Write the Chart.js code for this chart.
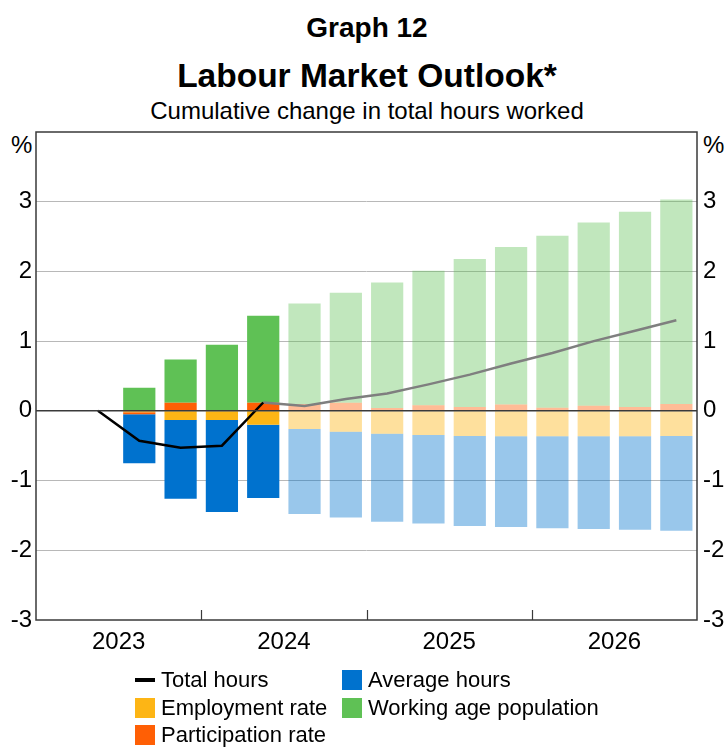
<!DOCTYPE html>
<html>
<head>
<meta charset="utf-8">
<script src="https://cdn.jsdelivr.net/npm/chart.js@4/dist/chart.umd.min.js"></script>
<style>
  html, body { margin: 0; padding: 0; background: #fff; }
  body { width: 726px; height: 747px; position: relative; overflow: hidden; font-family: "Liberation Sans", Arial, sans-serif; color: #000; }
  #c { position: absolute; left: 0; top: 0; }
  .t { position: absolute; left: 0; width: 734px; text-align: center; line-height: 1; white-space: nowrap; }
  .pct { position: absolute; font-size: 24px; line-height: 1; top: 133px; }
  .leg { position: absolute; display: flex; align-items: center; height: 20px; font-size: 22px; line-height: 20px; white-space: nowrap; }
  .sw { width: 20px; height: 20px; margin-right: 6px; flex: none; }
  .ln { width: 20px; height: 4px; margin-right: 6px; background: #000; flex: none; }
</style>
</head>
<body>
<div class="t" style="top:14px;font-size:28px;font-weight:bold;">Graph 12</div>
<div class="t" style="top:59px;font-size:33.5px;font-weight:bold;">Labour Market Outlook*</div>
<div class="t" style="top:99px;font-size:24px;">Cumulative change in total hours worked</div>
<div class="pct" style="left:11px;">%</div>
<div class="pct" style="left:703px;">%</div>
<canvas id="c" width="726" height="747" style="width:726px;height:747px;"></canvas>
<div class="leg" style="left:135px;top:670px;"><span class="ln"></span>Total hours</div>
<div class="leg" style="left:342px;top:670px;"><span class="sw" style="background:#0072CE"></span>Average hours</div>
<div class="leg" style="left:135px;top:698px;"><span class="sw" style="background:#FDB515"></span>Employment rate</div>
<div class="leg" style="left:342px;top:698px;"><span class="sw" style="background:#5FC155"></span>Working age population</div>
<div class="leg" style="left:135px;top:725px;"><span class="sw" style="background:#FF5F05"></span>Participation rate</div>
<script>
// ---- Data (cumulative % change, quarterly) ----
const quarters = ['2023 Q1','2023 Q2','2023 Q3','2023 Q4','2024 Q1','2024 Q2','2024 Q3','2024 Q4',
                  '2025 Q1','2025 Q2','2025 Q3','2025 Q4','2026 Q1','2026 Q2','2026 Q3','2026 Q4'];
const years = ['2023','2024','2025','2026'];
const employmentRate   = [null, null, -0.02, -0.13, -0.13, -0.20, -0.26, -0.30, -0.33, -0.345, -0.36, -0.365, -0.365, -0.365, -0.365, -0.36];
const participationRate= [null, null, -0.03, 0.115, 0.00, 0.115, 0.10, 0.115, 0.04, 0.08, 0.057, 0.09, 0.043, 0.072, 0.057, 0.10];
const averageHours     = [null, null, -0.70, -1.13, -1.32, -1.05, -1.22, -1.23, -1.26, -1.27, -1.29, -1.30, -1.32, -1.33, -1.34, -1.36];
const workingAgePop    = [null, null, 0.33, 0.62, 0.95, 1.25, 1.44, 1.58, 1.80, 1.93, 2.12, 2.26, 2.47, 2.63, 2.80, 2.93];
const totalHoursActual = [null, 0, -0.43, -0.53, -0.50, 0.12, null, null, null, null, null, null, null, null, null, null];
const totalHoursFcast  = [null, null, null, null, null, 0.12, 0.07, 0.17, 0.25, 0.38, 0.52, 0.68, 0.83, 1.00, 1.15, 1.30];
const firstForecastIndex = 6;
const yTicks = [-3, -2, -1, 0, 1, 2, 3];

const FONT = '"Liberation Sans", Arial, sans-serif';
Chart.defaults.font.family = FONT;
Chart.defaults.color = '#000';

function fc(solid, light) {
  return (c) => (c.dataIndex >= firstForecastIndex ? light : solid);
}
function barDs(label, data, solid, light) {
  return { type: 'bar', label, data, backgroundColor: fc(solid, light), borderWidth: 0,
           barPercentage: 0.78, categoryPercentage: 1, order: 1, stack: 'bars' };
}

const frame = {
  id: 'frame',
  afterDatasetsDraw(chart) {
    const { ctx, chartArea: a, scales } = chart;
    ctx.save();
    // zero line
    const y0 = scales.y.getPixelForValue(0);
    ctx.strokeStyle = '#3a3a3a'; ctx.lineWidth = 1.5;
    ctx.beginPath(); ctx.moveTo(a.left, y0); ctx.lineTo(a.right, y0); ctx.stroke();
    // year separator ticks
    ctx.strokeStyle = '#3a3a3a'; ctx.lineWidth = 1.2;
    const xs = scales.x;
    for (let i = 4; i < quarters.length; i += 4) {
      const x = Math.round((xs.getPixelForValue(i - 1) + xs.getPixelForValue(i)) / 2) + 0.5;
      ctx.beginPath(); ctx.moveTo(x, a.bottom); ctx.lineTo(x, a.bottom - 10); ctx.stroke();
    }
    // box
    ctx.strokeStyle = '#3a3a3a'; ctx.lineWidth = 1.5;
    ctx.strokeRect(a.left, a.top, a.right - a.left, a.bottom - a.top);
    ctx.restore();
  }
};

const yTickOpts = {
  stepSize: 1,
  font: { size: 24, family: FONT },
  color: '#000',
  callback: (v) => (yTicks.includes(v) ? String(v) : '')
};

new Chart(document.getElementById('c'), {
  type: 'bar',
  data: {
    labels: quarters,
    datasets: [
      { type: 'line', label: 'Total hours', data: totalHoursActual, borderColor: '#000', borderWidth: 2.5,
        pointRadius: 0, fill: false, tension: 0, order: 0, stack: 'l1' },
      { type: 'line', label: 'Total hours (forecast)', data: totalHoursFcast, borderColor: '#7f7f7f', borderWidth: 2.5,
        pointRadius: 0, fill: false, tension: 0, order: 0, stack: 'l2' },
      barDs('Employment rate', employmentRate, '#FDB515', 'rgba(253,181,21,0.42)'),
      barDs('Participation rate', participationRate, '#FF5F05', 'rgba(255,95,5,0.42)'),
      barDs('Average hours', averageHours, '#0072CE', 'rgba(0,114,206,0.40)'),
      barDs('Working age population', workingAgePop, '#5FC155', 'rgba(95,193,85,0.39)')
    ]
  },
  options: {
    responsive: false,
    animation: false,
    devicePixelRatio: 1,
    layout: { padding: { top: 132, bottom: 87, left: 0, right: 0 } },
    plugins: { legend: { display: false }, tooltip: { enabled: false }, title: { display: false } },
    scales: {
      x: { display: false, stacked: true, offset: true },
      x2: {
        type: 'category', labels: years, position: 'bottom', offset: true,
        grid: { display: false, drawTicks: false }, border: { display: false },
        ticks: { font: { size: 24, family: FONT }, color: '#000', padding: 8, maxRotation: 0, autoSkip: false },
        afterFit: (s) => { s.height = 40; }
      },
      y: {
        position: 'left', stacked: true, min: -3, max: 4,
        ticks: Object.assign({ padding: 4 }, yTickOpts),
        grid: { drawTicks: false, lineWidth: 1,
                color: (c) => (c.tick && (c.tick.value === 0 || c.tick.value === 4 || c.tick.value === -3) ? 'rgba(0,0,0,0)' : '#b8b8b8') },
        border: { display: false },
        afterFit: (s) => { s.width = 36; }
      },
      y2: {
        position: 'right', min: -3, max: 4,
        ticks: Object.assign({ padding: 6 }, yTickOpts),
        grid: { display: false, drawTicks: false },
        border: { display: false },
        afterFit: (s) => { s.width = 29; }
      }
    }
  },
  plugins: [frame]
});
</script>
</body>
</html>
